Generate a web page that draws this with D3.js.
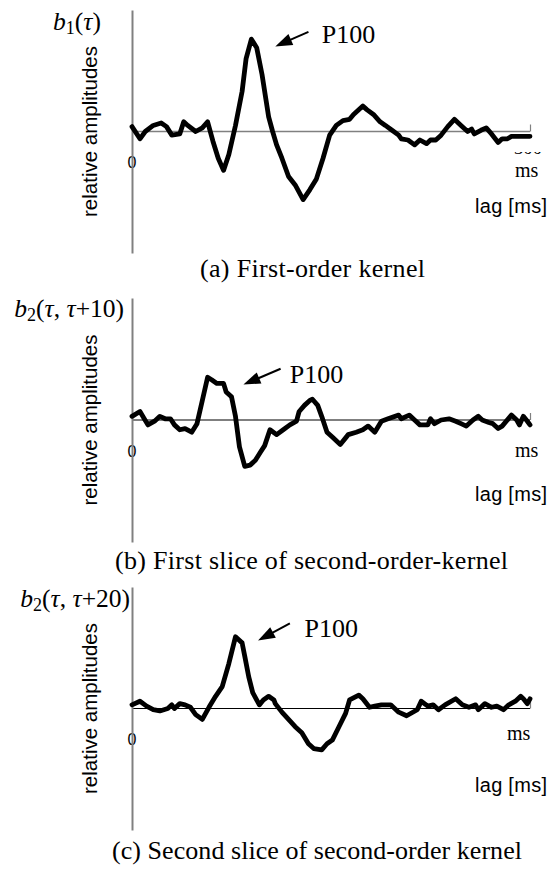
<!DOCTYPE html>
<html><head><meta charset="utf-8">
<script src="https://cdn.jsdelivr.net/npm/d3@7"></script>
<style>body{margin:0;background:#fff}svg{display:block}</style>
</head><body>
<script>
// ---- data ----
const lagA = [0,6,10,16,22,26,30,36,39,42,48,53,57,61,65,69,73,78,83,86,90,94,98,101,103,106,109,113,118,123,129,134,139,144,149,154,159,164,167,174,177,182,187,191,196,201,203,208,213,217,222,225,229,233,238,243,248,253,256,258,263,267,271,276,279,283,286,290,295,300];
const ampA = [0.04,-0.06,0.00,0.05,0.07,0.04,-0.03,-0.02,0.08,0.05,0.00,0.03,0.08,-0.08,-0.22,-0.32,-0.19,0.05,0.33,0.60,0.76,0.69,0.47,0.26,0.12,0.00,-0.11,-0.22,-0.37,-0.44,-0.56,-0.48,-0.39,-0.22,-0.03,0.05,0.09,0.10,0.14,0.21,0.18,0.14,0.08,0.05,0.01,-0.03,-0.06,-0.07,-0.11,-0.07,-0.10,-0.07,-0.07,-0.03,0.04,0.10,0.05,0.00,0.02,-0.02,0.01,0.03,-0.02,-0.09,-0.06,-0.06,-0.04,-0.04,-0.04,-0.04];
const lagB = [0,6,12,17,21,25,29,32,36,40,45,49,53,57,60,64,69,71,75,78,81,85,89,93,97,100,104,109,114,119,124,126,130,134,136,140,143,147,151,157,163,169,174,178,183,188,193,201,203,209,213,217,223,225,228,233,239,244,248,252,257,261,264,269,272,276,279,286,290,292,295,298,300];
const ampB = [0.03,0.07,-0.04,-0.01,0.03,0.01,0.01,-0.04,-0.08,-0.07,-0.10,-0.03,0.16,0.35,0.33,0.30,0.30,0.23,0.19,0.03,-0.22,-0.38,-0.37,-0.33,-0.26,-0.21,-0.08,-0.12,-0.08,-0.04,-0.01,0.07,0.12,0.16,0.17,0.12,0.03,-0.10,-0.14,-0.20,-0.12,-0.10,-0.08,-0.05,-0.10,-0.01,0.01,0.04,0.01,0.04,0.00,-0.04,-0.04,0.01,-0.03,0.00,0.01,-0.01,-0.03,-0.05,0.00,0.03,0.00,-0.02,-0.03,-0.07,-0.05,0.04,0.00,-0.04,0.03,-0.01,-0.04];
const lagC = [0,6,11,16,21,27,30,32,36,40,44,48,53,58,63,68,73,78,83,85,88,91,96,99,103,107,108,113,118,123,128,133,137,143,147,151,156,161,164,171,174,179,183,188,195,201,207,215,218,223,227,231,236,244,249,254,259,261,266,271,275,280,284,289,293,295,298,300];
const ampC = [0.03,0.06,0.02,-0.01,-0.02,0.00,0.03,0.00,0.04,0.03,0.01,-0.05,-0.09,0.01,0.10,0.18,0.37,0.59,0.54,0.43,0.26,0.13,0.03,0.07,0.10,0.07,0.04,-0.03,-0.09,-0.15,-0.20,-0.29,-0.33,-0.34,-0.29,-0.26,-0.15,-0.04,0.07,0.11,0.08,0.01,0.02,0.03,0.03,-0.03,-0.06,-0.01,0.06,0.02,0.03,-0.01,0.03,0.08,0.03,0.01,0.03,-0.01,0.04,0.01,0.02,-0.01,0.03,0.06,0.10,0.08,0.04,0.08];
const xDomain = [0, 300];
const yDomain = [-1, 1];
const zeroLabel = "0";
const xEndTick = "300";
const xUnit = "ms";
const xTitle = "lag [ms]";
const yTitle = "relative amplitudes";
const peakName = "P100";
const captions = ["(a) First-order kernel", "(b) First slice of second-order-kernel", "(c) Second slice of second-order kernel"];
const kernelLabels = [
  [{t:"b",i:1},{t:"1",s:1},{t:"("},{t:"τ",i:1},{t:")"}],
  [{t:"b",i:1},{t:"2",s:1},{t:"("},{t:"τ",i:1},{t:", "},{t:"τ",i:1},{t:"+10)"}],
  [{t:"b",i:1},{t:"2",s:1},{t:"("},{t:"τ",i:1},{t:", "},{t:"τ",i:1},{t:"+20)"}]
];
// P100 annotation: arrow tail/tip and label position in data coordinates [lag, amp]
const arrowTail = [[133,0.82],[112,0.42],[119,0.70]];
const arrowTip  = [[108,0.70],[84,0.29],[95,0.56]];
const peakText  = [[143,0.73],[119,0.30],[130,0.59]];

// ---- layout ----
const W = 550, H = 869;
const SANS = '"Liberation Sans"';
const SERIF = '"Liberation Serif"';
const panels = [
  {lag:lagA, amp:ampA, top:10, bottom:253, zeroColor:"#808080", labelX:101, labelY:30, msX:515, msY:177, titleY:213, capX:200, capY:277, capW:225, endTick:true},
  {lag:lagB, amp:ampB, top:298, bottom:542, zeroColor:"#000", labelX:124, labelY:317, msX:515, msY:457, titleY:501, capX:115, capY:569, capW:393, endTick:false},
  {lag:lagC, amp:ampC, top:587, bottom:830, zeroColor:"#000", labelX:130, labelY:607, msX:507, msY:740, titleY:792, capX:112, capY:859, capW:410, endTick:false}
];

const svg = d3.select("body").append("svg").attr("width", W).attr("height", H);
const x = d3.scaleLinear().domain(xDomain).range([132, 530]);

function txt(sel, fam, size) {
  return sel.style("font-family", fam).style("font-size", size + "px").attr("fill", "#000");
}

panels.forEach((p, k) => {
  const y = d3.scaleLinear().domain(yDomain).range([p.bottom, p.top]);
  const g = svg.append("g");

  // zero line (x axis) with end tick
  const xAxis = d3.axisTop(x).tickValues([xDomain[1]]).tickSize(7).tickFormat("");
  const ax = g.append("g").attr("transform", `translate(0,${y(0)})`).call(xAxis);
  ax.select(".domain").attr("stroke", p.zeroColor).attr("stroke-width", k === 0 ? 1.4 : 1.1).attr("d", `M${x(xDomain[0])},0H${x(xDomain[1])}`);
  ax.selectAll(".tick line").attr("stroke", "#808080").attr("stroke-width", 1.2);

  // "0" label
  txt(g.append("text"), SANS, 16).attr("x", x(0)).attr("y", y(0) + 36.5).attr("text-anchor", "middle").text(zeroLabel);

  // y axis line
  const yAxis = d3.axisLeft(y).tickValues([]).tickSizeOuter(0);
  const ay = g.append("g").attr("transform", `translate(${x(0)},0)`).call(yAxis);
  ay.select(".domain").attr("stroke", "#808080").attr("stroke-width", 2);

  // curve
  const pts = p.lag.map((l, i) => [l, p.amp[i]]);
  g.append("path").datum(pts)
    .attr("d", d3.line().x(d => x(d[0])).y(d => y(d[1])))
    .attr("fill", "none").attr("stroke", "#000").attr("stroke-width", 4.8)
    .attr("stroke-linejoin", "round").attr("stroke-linecap", "round");

  // y title
  txt(g.append("text"), SANS, 20.5).attr("transform", `translate(${97},${y(0)}) rotate(-90)`)
    .attr("text-anchor", "middle").text(yTitle);

  // x title
  txt(g.append("text"), SANS, 20).attr("x", 547).attr("y", p.titleY).attr("text-anchor", "end")
    .attr("textLength", 72).attr("lengthAdjust", "spacing").text(xTitle);

  // ms unit
  txt(g.append("text"), SERIF, 20).attr("x", p.msX).attr("y", p.msY).text(xUnit);

  // clipped end-tick label (only its bottom is visible, panel a)
  if (p.endTick) {
    const cid = "clip" + k;
    svg.append("clipPath").attr("id", cid).append("rect")
      .attr("x", 505).attr("y", y(0) + 20.5).attr("width", 45).attr("height", 8);
    txt(g.append("text"), SERIF, 19).attr("clip-path", `url(#${cid})`).attr("x", 514).attr("y", y(0) + 22.8)
      .attr("textLength", 28).attr("lengthAdjust", "spacingAndGlyphs").text(xEndTick);
  }

  // kernel label
  const kt = txt(g.append("text"), SERIF, 25.5).attr("x", p.labelX).attr("y", p.labelY).attr("text-anchor", "end");
  let shifted = false;
  kernelLabels[k].forEach(part => {
    const ts = kt.append("tspan").text(part.t);
    if (part.i) ts.style("font-style", "italic");
    if (part.s) { ts.style("font-size", "18px").attr("dy", 4); shifted = true; }
    else if (shifted) { ts.attr("dy", -4); shifted = false; }
  });

  // P100 arrow
  const t0 = [x(arrowTail[k][0]), y(arrowTail[k][1])];
  const t1 = [x(arrowTip[k][0]), y(arrowTip[k][1])];
  const dx = t1[0] - t0[0], dy = t1[1] - t0[1];
  const len = Math.hypot(dx, dy), ux = dx / len, uy = dy / len;
  const hl = 17, hw = 6;
  const base = [t1[0] - ux * hl, t1[1] - uy * hl];
  g.append("line").attr("x1", t0[0]).attr("y1", t0[1]).attr("x2", base[0] + ux * 2).attr("y2", base[1] + uy * 2)
    .attr("stroke", "#000").attr("stroke-width", 2);
  g.append("path").attr("d", d3.line()([t1, [base[0] - uy * hw, base[1] + ux * hw], [base[0] + uy * hw, base[1] - ux * hw]]) + "Z")
    .attr("fill", "#000");
  txt(g.append("text"), SERIF, 26).attr("x", x(peakText[k][0])).attr("y", y(peakText[k][1])).text(peakName);

  // caption
  txt(g.append("text"), SERIF, 26).attr("x", p.capX).attr("y", p.capY)
    .attr("textLength", p.capW).attr("lengthAdjust", "spacing").text(captions[k]);
});
</script>
</body></html>
